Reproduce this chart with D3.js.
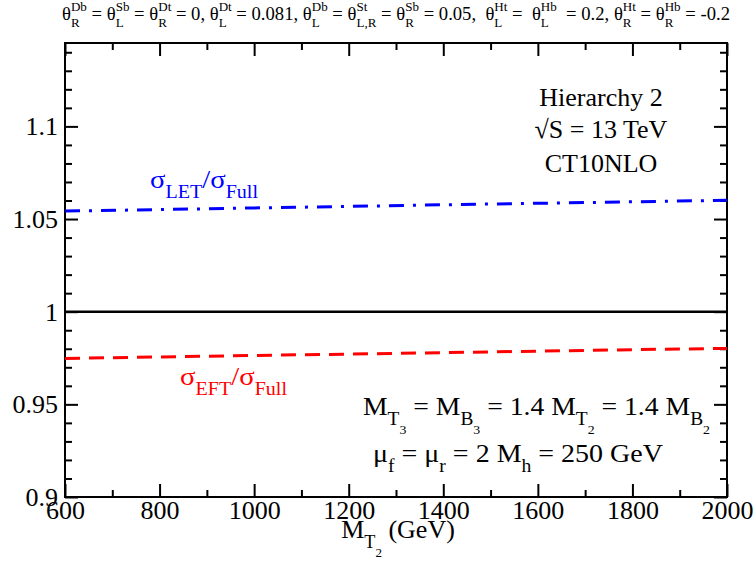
<!DOCTYPE html>
<html><head><meta charset="utf-8">
<script src="https://cdn.jsdelivr.net/npm/d3@7"></script>
<style>body{margin:0;background:#fff} text{font-family:"Liberation Serif","Tinos","DejaVu Serif","Noto Serif",serif}</style>
</head><body><svg id="c" width="756" height="573"></svg>
<script>
// ---- data ----
const mass = [600, 800, 1000, 1200, 1400, 1600, 1800, 2000];
const letRatio = [1.0543, 1.0551, 1.0560, 1.0568, 1.0577, 1.0585, 1.0593, 1.0601];
const eftRatio = [0.9748, 0.9756, 0.9764, 0.9771, 0.9779, 0.9787, 0.9795, 0.9802];
const fullRatio = [1, 1, 1, 1, 1, 1, 1, 1];
const xTicks = [600, 800, 1000, 1200, 1400, 1600, 1800, 2000];
const xMinorTicks = [700, 900, 1100, 1300, 1500, 1700, 1900];
const yTicks = [0.9, 0.95, 1, 1.05, 1.1];
const yTickLabels = ["0.9", "0.95", "1", "1.05", "1.1"];
const yMinorTicks = [0.91,0.92,0.93,0.94,0.96,0.97,0.98,0.99,1.01,1.02,1.03,1.04,1.06,1.07,1.08,1.09,1.11,1.12,1.13,1.14];

const FONT = '"Liberation Serif","Tinos","DejaVu Serif","Noto Serif",serif';
const svg = d3.select("#c");
const L = 65, R = 727, T = 43, B = 497;
const x = d3.scaleLinear().domain([600, 2000]).range([L, R]);
const y = d3.scaleLinear().domain([0.9, 1.145]).range([B, T]);

// rich text helper
function n(t){return {t:t,s:1,dy:0};}
function sb(t){return {t:t,s:0.7,dy:0.38};}
function sp(t){return {t:t,s:0.7,dy:-0.5,stack:true};}
function ssb(t){return {t:t,s:0.5,dy:0.72};}
function rich(parent, cx, cy, segs, size, color, anchor, fitWidth){
  const g = parent.append("g");
  let cursor = 0, prevStart = 0, prevEnd = 0;
  segs.forEach(seg => {
    const start = seg.stack ? prevStart : cursor;
    const te = g.append("text").attr("x", start).attr("y", seg.dy*size)
      .attr("font-size", size*seg.s).attr("fill", color).style("font-family", FONT)
      .attr("xml:space","preserve").style("white-space","pre").text(seg.t);
    const w = te.node().getComputedTextLength();
    const end = start + w;
    if (seg.stack) { cursor = Math.max(prevEnd, end); prevEnd = cursor; }
    else { cursor = end; prevEnd = end; }
    prevStart = start;
  });
  const W = cursor;
  let sx = 1;
  if (fitWidth) sx = fitWidth / W;
  const off = anchor === "middle" ? -W*sx/2 : anchor === "end" ? -W*sx : 0;
  g.attr("transform", `translate(${cx+off},${cy}) scale(${sx},1)`);
  return g;
}

// axes
function styleAxis(g){ g.select(".domain").remove(); g.selectAll("line").attr("stroke","#000").attr("stroke-width",2);
  g.attr("font-family", null);
  g.selectAll("text").attr("font-size",26).attr("fill","#000").style("font-family", FONT); }

svg.append("g").attr("transform",`translate(0,${B})`)
  .call(d3.axisBottom(x).tickValues(xTicks).tickFormat(d3.format("d")).tickSizeInner(-13).tickSizeOuter(0).tickPadding(4)).call(styleAxis);
svg.append("g").attr("transform",`translate(0,${B})`)
  .call(d3.axisBottom(x).tickValues(xMinorTicks).tickFormat("").tickSizeInner(-7).tickSizeOuter(0)).call(styleAxis);
svg.append("g").attr("transform",`translate(0,${T})`)
  .call(d3.axisTop(x).tickValues(xTicks).tickFormat("").tickSizeInner(-13).tickSizeOuter(0)).call(styleAxis);
svg.append("g").attr("transform",`translate(0,${T})`)
  .call(d3.axisTop(x).tickValues(xMinorTicks).tickFormat("").tickSizeInner(-7).tickSizeOuter(0)).call(styleAxis);
svg.append("g").attr("transform",`translate(${L},0)`)
  .call(d3.axisLeft(y).tickValues(yTicks).tickFormat((d,i)=>yTickLabels[i]).tickSizeInner(-13).tickSizeOuter(0).tickPadding(7)).call(styleAxis);
svg.append("g").attr("transform",`translate(${L},0)`)
  .call(d3.axisLeft(y).tickValues(yMinorTicks).tickFormat("").tickSizeInner(-7).tickSizeOuter(0)).call(styleAxis);
svg.append("g").attr("transform",`translate(${R},0)`)
  .call(d3.axisRight(y).tickValues(yTicks).tickFormat("").tickSizeInner(-13).tickSizeOuter(0)).call(styleAxis);
svg.append("g").attr("transform",`translate(${R},0)`)
  .call(d3.axisRight(y).tickValues(yMinorTicks).tickFormat("").tickSizeInner(-7).tickSizeOuter(0)).call(styleAxis);

svg.append("rect").attr("x",L).attr("y",T).attr("width",R-L).attr("height",B-T)
  .attr("fill","none").attr("stroke","#000").attr("stroke-width",2);

// lines
const line = d3.line().x((d,i)=>x(mass[i])).y(d=>y(d));
svg.append("path").datum(fullRatio).attr("d",line).attr("fill","none").attr("stroke","#000").attr("stroke-width",2.5);
svg.append("path").datum(letRatio).attr("d",line).attr("fill","none").attr("stroke","#0000ff").attr("stroke-width",3)
  .attr("stroke-dasharray","15,9,3,9");
svg.append("path").datum(eftRatio).attr("d",line).attr("fill","none").attr("stroke","#ff0000").attr("stroke-width",3)
  .attr("stroke-dasharray","15,9");

// title
const th = (a,b)=>[n("θ"), sb(a), sp(b)];
const titleSegs = [].concat(
  th("R","Db"), [n(" = ")], th("L","Sb"), [n(" = ")], th("R","Dt"), [n(" = 0, ")], th("L","Dt"), [n(" = 0.081, ")],
  th("L","Db"), [n(" = ")], th("L,R","St"), [n(" = ")], th("R","Sb"), [n(" = 0.05,  ")],
  th("L","Ht"), [n(" =  ")], th("L","Hb"), [n("  = 0.2, ")], th("R","Ht"), [n(" = ")], th("R","Hb"), [n(" = -0.2")]
);
rich(svg, 396, 20, titleSegs, 18, "#000", "middle", 668);

// axis title
rich(svg, 398, 538, [n("M"), sb("T"), ssb("2"), n(" (GeV)")], 26, "#000", "middle");

// annotations
svg.append("g").selectAll("text").data(["Hierarchy 2", "√S = 13 TeV", "CT10NLO"]).join("text")
  .attr("x",601).attr("y",(d,i)=>[106,138,172][i]).attr("text-anchor","middle").attr("font-size",26)
  .style("font-family", FONT).text(d=>d);

rich(svg, 536.5, 415, [n("M"), sb("T"), ssb("3"), n(" = M"), sb("B"), ssb("3"), n(" = 1.4 M"), sb("T"), ssb("2"), n(" = 1.4 M"), sb("B"), ssb("2")], 26, "#000", "middle", 347);
rich(svg, 518, 462, [n("μ"), sb("f"), n(" = μ"), sb("r"), n(" = 2 M"), sb("h"), n(" = 250 GeV")], 26, "#000", "middle", 290);

rich(svg, 150, 188, [n("σ"), sb("LET"), n("/σ"), sb("Full")], 26, "#0000ff", "start", 108);
rich(svg, 180, 385, [n("σ"), sb("EFT"), n("/σ"), sb("Full")], 26, "#ff0000", "start", 107);
</script></body></html>
